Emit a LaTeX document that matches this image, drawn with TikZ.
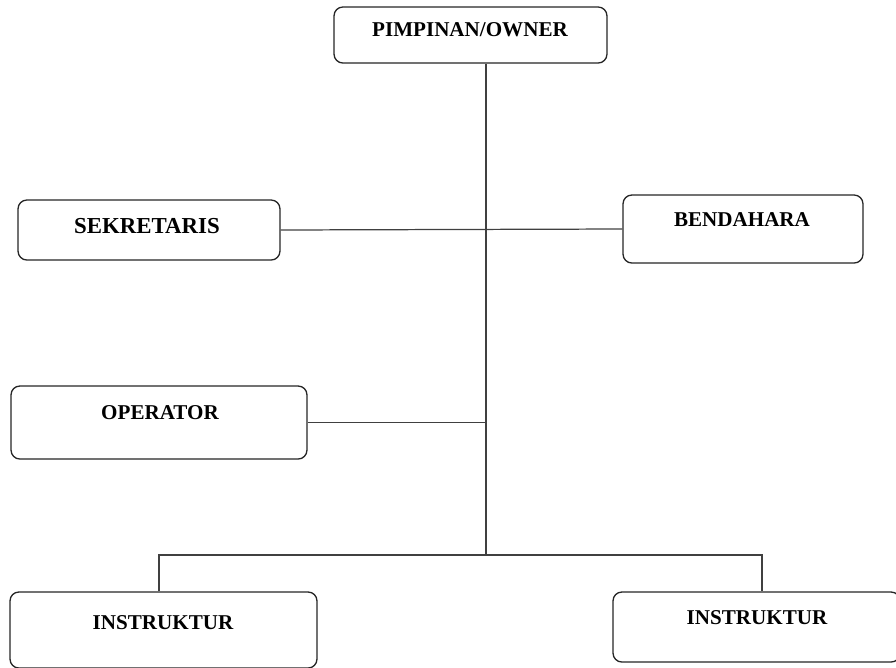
\documentclass[tikz,border=0pt]{standalone}
\usepackage{fontspec}
\setmainfont{Liberation Serif}
\usetikzlibrary{calc}

\begin{document}
\begin{tikzpicture}[x=0.02cm, y=-0.02cm,
		unit/.style={draw=black!85, line width=0.75pt, rounded corners=5pt, fill=white},
		unittext/.style={font=\fontsize{12}{14}\selectfont\bfseries, inner sep=0pt},
		link/.style={draw=black!75, line width=0.7pt}]
			%%%%% START %%%%%
			
			\useasboundingbox (0, 0) rectangle (896, 667);
			
			\coordinate (bus) at (486, 555);
			
			\node[unit, minimum width=5.46cm, minimum height=1.12cm] (owner) at (470.5, 35) {};
			\node[unittext] (owner-txt) at (470, 30) {PIMPINAN/OWNER};
			
			\node[unit, minimum width=5.24cm, minimum height=1.2cm] (sekr) at (149, 230) {};
			\node[unittext, font=\fontsize{13}{15}\selectfont\bfseries] (sekr-txt) at (147, 226) {SEKRETARIS};
			
			\node[unit, minimum width=4.8cm, minimum height=1.36cm] (bend) at (743, 229) {};
			\node[unittext] (bend-txt) at (742, 220) {BENDAHARA};
			
			\node[unit, minimum width=5.92cm, minimum height=1.46cm] (oper) at (159, 422.5) {};
			\node[unittext] (oper-txt) at (160, 413) {OPERATOR};
			
			\node[unit, minimum width=6.14cm, minimum height=1.52cm] (instr1) at (163.5, 630) {};
			\node[unittext] (instr1-txt) at (163, 623) {INSTRUKTUR};
			
			\node[unit, minimum width=5.74cm, minimum height=1.4cm] (instr2) at (756.5, 627) {};
			\node[unittext] (instr2-txt) at (757, 618) {INSTRUKTUR};
			
			\draw[link] (owner.south -| bus) -- (bus);
			\draw[link] (sekr.east) -- (bend.west);
			\draw[link] (oper.east) -- (oper.east -| bus);
			\draw[link] ([xshift=-0.09cm]instr1.north) |- (bus) -| ([xshift=0.11cm]instr2.north);
			
			%%%%% END %%%%%
		\end{tikzpicture}
\end{document}
